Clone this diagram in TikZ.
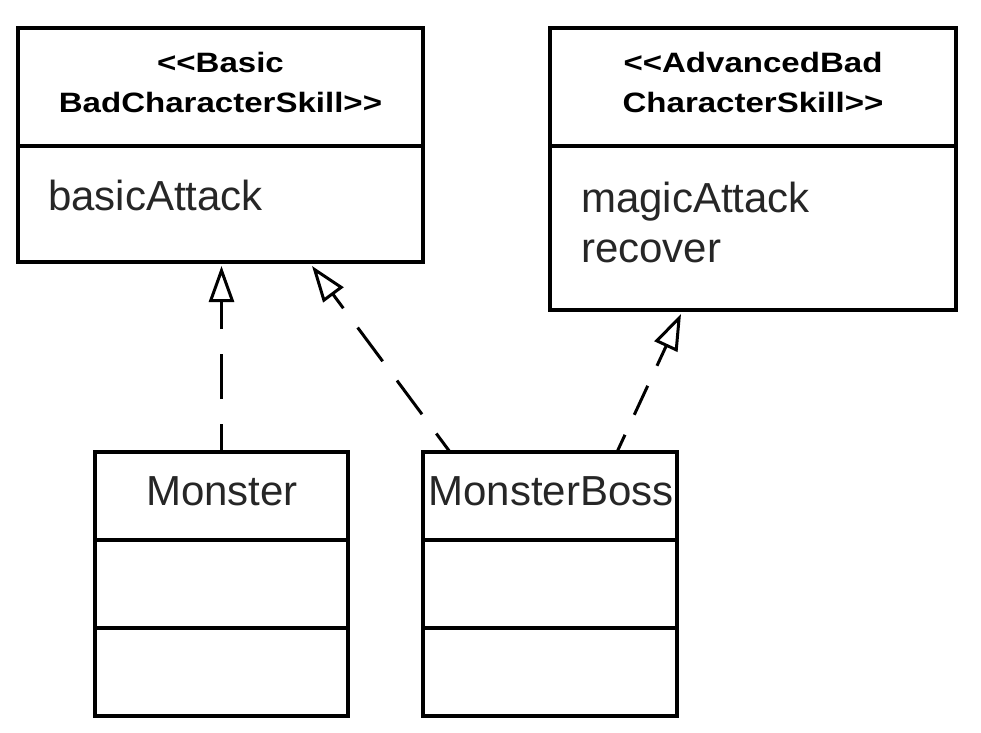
\documentclass[tikz,border=0pt]{standalone}
\usepackage{fontspec}
\setmainfont{Liberation Sans}
\newfontfamily\stereofont[FakeStretch=1.18]{Liberation Sans}
\usetikzlibrary{arrows.meta,calc}
\begin{document}
\begin{tikzpicture}[x=1pt,y=-1pt,
  box/.style={draw, line width=3.5pt, anchor=north west, inner sep=0pt, outer sep=0pt},
  divider/.style={line width=3.5pt},
  stereo/.style={anchor=base, align=center, inner sep=0pt, font=\stereofont\bfseries\fontsize{28}{40}\selectfont},
  body/.style={inner sep=0pt, text=black!85, font=\fontsize{42}{50}\selectfont},
  conn/.style={line width=3pt, -{Triangle[open, length=36pt, width=25pt, line width=3pt]}},
]
\useasboundingbox (0,0) rectangle (981,732);
% boxes
\node[box, minimum width=405pt, minimum height=234pt] (A) at (18,28) {};
\node[box, minimum width=406pt, minimum height=282pt] (B) at (550,28) {};
\node[box, minimum width=253pt, minimum height=264pt] (mon) at (95,452) {};
\node[box, minimum width=254pt, minimum height=264pt] (boss) at (423,452) {};
% dividers
\draw[divider] (A.west |- 0,146) -- (A.east |- 0,146);
\draw[divider] (B.west |- 0,146) -- (B.east |- 0,146);
\draw[divider] (mon.west |- 0,540) -- (mon.east |- 0,540);
\draw[divider] (mon.west |- 0,628) -- (mon.east |- 0,628);
\draw[divider] (boss.west |- 0,540) -- (boss.east |- 0,540);
\draw[divider] (boss.west |- 0,628) -- (boss.east |- 0,628);
% texts (anchor=base is the baseline of the last line)
\node[stereo] (At) at (220.5,112) {<{}<Basic\\BadCharacterSkill>{}>};
\node[stereo] (Bt) at (753,112) {<{}<AdvancedBad\\CharacterSkill>{}>};
\node[body, anchor=base west] (Aop) at (48,210) {basicAttack};
\node[body, anchor=base west, align=left] (Bop) at (581,262) {magicAttack\\recover};
\node[body, anchor=base] (monT) at (222,505) {Monster};
\node[body, anchor=base] (bossT) at (551,505) {MonsterBoss};
% connector end points
\coordinate (s1) at (mon.north);
\coordinate (e1) at ($(mon.north |- A.south)+(0,4)$);
\coordinate (s2) at ($(boss.north west)+(27,0)$);
\coordinate (e2) at ($(A.south east)+(-111,4)$);
\coordinate (s3) at ($(boss.north west)+(194,0)$);
\coordinate (e3) at ($(B.south west)+(131,4)$);
% connectors
\draw[conn, dash pattern=on 45pt off 25pt, dash phase=17pt] (s1) -- (e1);
\draw[conn, dash pattern=on 42pt off 24pt, dash phase=19pt] (s2) -- (e2);
\draw[conn, dash pattern=on 32pt off 22pt, dash phase=13pt] (s3) -- (e3);
\end{tikzpicture}
\end{document}
